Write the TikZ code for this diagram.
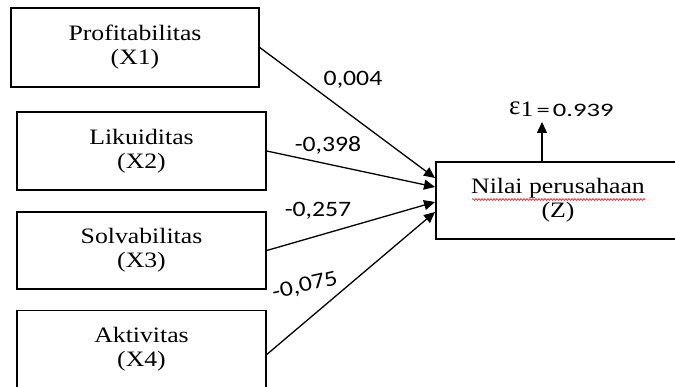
\documentclass[tikz,border=0pt]{standalone}
\usepackage{fontspec}
\setmainfont{Liberation Serif}
\newfontfamily\boxfont[FakeStretch=1.17]{Liberation Serif}
\newfontfamily\numfont[FakeStretch=1.17]{Carlito}
\newfontfamily\epsnum[FakeStretch=1.4]{Carlito}
\usetikzlibrary{arrows.meta,calc,decorations.pathmorphing}
\begin{document}
\begin{tikzpicture}[x=1pt,y=-1pt,
  varbox/.style={draw, line width=1.5pt, inner sep=0pt, align=center,
    font=\boxfont\fontsize{22}{24}\selectfont},
  path/.style={line width=1.3pt, -{Triangle[length=11pt,width=10pt]}},
  coef/.style={font=\numfont\fontsize{22}{24}\selectfont, inner sep=0pt}]
\useasboundingbox (0,0) rectangle (675,387);
\node[varbox, minimum width=248pt, minimum height=79pt] (X1) at (135,47.5) {Profitabilitas\\(X1)};
\node[varbox, minimum width=249pt, minimum height=78pt] (X2) at (141.5,151) {Likuiditas\\(X2)};
\node[varbox, minimum width=249pt, minimum height=77pt] (X3) at (141.5,250.5) {Solvabilitas\\(X3)};
\node[varbox, minimum width=249pt, minimum height=78pt] (X4) at (141.5,349.5) {Aktivitas\\(X4)};
\node[varbox, minimum width=244pt, minimum height=77pt] (Z) at (558,200.5) {Nilai perusahaan\\(Z)};
\coordinate (e1) at (435,178);
\coordinate (e2) at (435,187);
\coordinate (e3) at (435,202);
\coordinate (e4) at (435,212);
\coordinate (x4out) at ($(X4.east)+(0,5)$);
\draw[path] (X1.east) -- (e1);
\draw[path] (X2.east) -- (e2);
\draw[path] (X3.east) -- (e3);
\draw[path] (x4out) -- (e4);
\node[coef, anchor=base] (c1) at (353,86) {0,004};
\node[coef, anchor=base] (c2) at (328,152) {-0,398};
\node[coef, anchor=base] (c3) at (318,217) {-0,257};
\node[coef, rotate=13] (c4) at (305,286) {-0,075};
\coordinate (zt) at (542,162);
\node[inner sep=0pt, anchor=base west] (eps) at (509,117)
  {\raisebox{2pt}{\fontsize{27}{27}\selectfont ε}{\boxfont\fontsize{22}{22}\selectfont 1}{\epsnum\fontsize{19}{19}\selectfont\,=\,0.939}};
\coordinate (et) at (542,122);
\draw[path] (zt) -- (et);
\coordinate (sq1) at (472,199.5);
\coordinate (sq2) at (645,199.5);
\draw[red, line width=0.6pt, decorate, decoration={snake, amplitude=0.9pt, segment length=3pt}] (sq1) -- (sq2);
\end{tikzpicture}
\end{document}
